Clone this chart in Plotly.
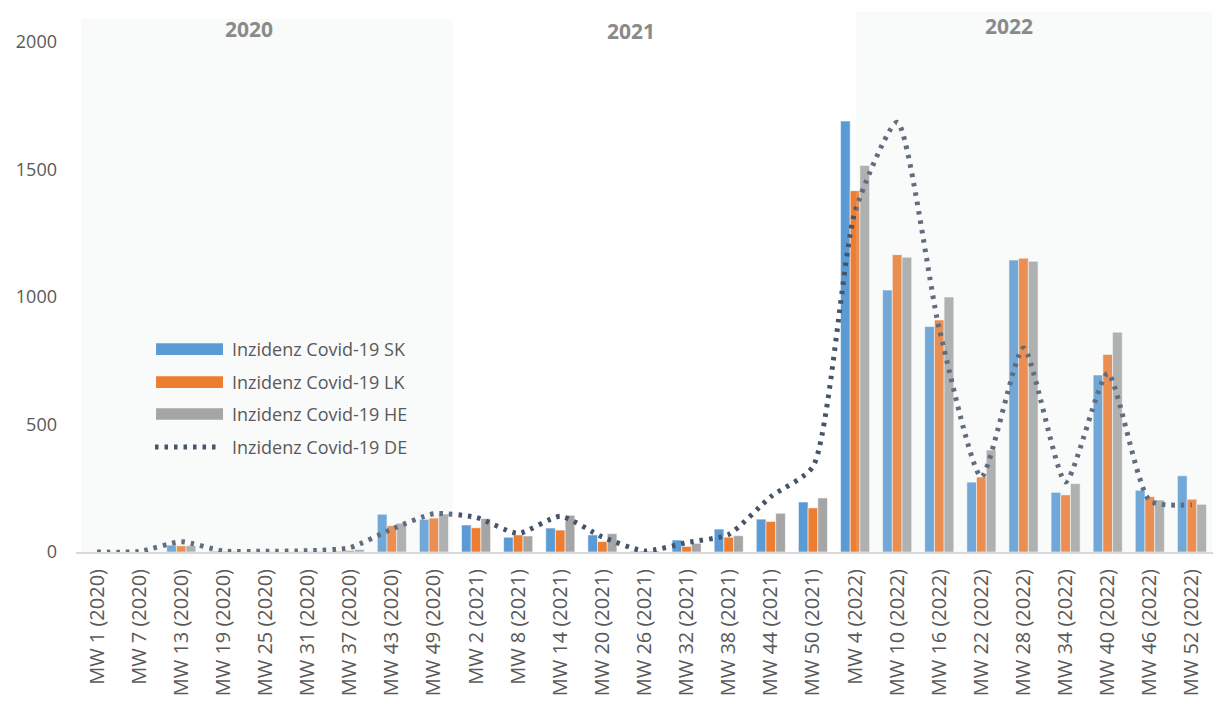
import plotly.graph_objects as go

# Reporting weeks (every 6th calendar week)
weeks = [
    "MW 1 (2020)", "MW 7 (2020)", "MW 13 (2020)", "MW 19 (2020)", "MW 25 (2020)",
    "MW 31 (2020)", "MW 37 (2020)", "MW 43 (2020)", "MW 49 (2020)",
    "MW 2 (2021)", "MW 8 (2021)", "MW 14 (2021)", "MW 20 (2021)", "MW 26 (2021)",
    "MW 32 (2021)", "MW 38 (2021)", "MW 44 (2021)", "MW 50 (2021)",
    "MW 4 (2022)", "MW 10 (2022)", "MW 16 (2022)", "MW 22 (2022)", "MW 28 (2022)",
    "MW 34 (2022)", "MW 40 (2022)", "MW 46 (2022)", "MW 52 (2022)",
]

# 7-day incidence per 100,000 inhabitants
inz_sk = [0, 0, 27, 3, 1, 2, 3, 148, 128, 106, 58, 94, 67, 3, 47, 90, 129, 196,
          1690, 1027, 884, 274, 1145, 234, 694, 242, 299]
inz_lk = [0, 0, 24, 3, 1, 2, 6, 103, 133, 95, 67, 86, 41, 4, 22, 58, 120, 173,
          1417, 1166, 910, 294, 1152, 224, 775, 217, 207]
inz_he = [0, 0, 25, 3, 1, 2, 10, 113, 149, 131, 63, 144, 72, 4, 34, 64, 152, 212,
          1516, 1156, 1000, 400, 1140, 268, 862, 204, 187]
inz_de = [0, 2, 40, 4, 3, 5, 17, 90, 150, 136, 73, 140, 59, 4, 37, 69, 217, 335,
          1335, 1685, 875, 295, 800, 275, 700, 201, 185]

y_ticks = [0, 500, 1000, 1500, 2000]
years = ["2020", "2021", "2022"]

FONT = "Open Sans"
C_SK, C_LK, C_HE, C_DE = "#5B9BD5", "#ED7D31", "#A5A5A5", "#44546A"
DE_DASH = "3.5px,6px"

fig = go.Figure()
bar_series = [
    ("Inzidenz Covid-19 SK", inz_sk, C_SK),
    ("Inzidenz Covid-19 LK", inz_lk, C_LK),
    ("Inzidenz Covid-19 HE", inz_he, C_HE),
]
for name, vals, col in bar_series:
    fig.add_trace(go.Bar(
        x=weeks, y=vals, name=name, marker_color=col,
        marker_line=dict(color="rgba(255,255,255,0.55)", width=1),
        showlegend=False,
    ))

fig.add_trace(go.Scatter(
    x=weeks, y=inz_de, name="Inzidenz Covid-19 DE", mode="lines",
    line=dict(color=C_DE, width=5, dash=DE_DASH, shape="spline", smoothing=0.6),
    showlegend=False,
))

# Light panels marking 2020 and 2022
shade = "rgba(222,228,228,0.18)"
fig.add_shape(type="rect", xref="x", yref="paper", x0=-0.38, x1=8.45, y0=0, y1=1.045,
              fillcolor=shade, line_width=0, layer="above")
fig.add_shape(type="rect", xref="x", yref="paper", x0=18.02, x1=26.48, y0=0, y1=1.059,
              fillcolor=shade, line_width=0, layer="above")

# Year headings
for label, xc, yc in zip(years, [3.61, 12.68, 21.66], [1.0255, 1.0216, 1.0304]):
    fig.add_annotation(text=label, x=xc, y=yc, xref="x", yref="paper",
                       showarrow=False, xanchor="center", yanchor="middle",
                       font=dict(family=FONT, size=21, color="#8A8A8A", weight="bold"))

# Legend block
leg_x0, leg_x1, leg_tx = 0.0704, 0.1293, 0.1355
leg_rows = [0.398, 0.3333, 0.2706]
for (name, _, col), yc in zip(bar_series, leg_rows):
    fig.add_shape(type="rect", xref="paper", yref="paper", x0=leg_x0, x1=leg_x1,
                  y0=yc - 0.0115, y1=yc + 0.0115, fillcolor=col, line_width=0,
                  layer="above")
    fig.add_annotation(text=name, x=leg_tx, y=yc, xref="paper", yref="paper",
                       showarrow=False, xanchor="left", yanchor="middle",
                       font=dict(family=FONT, size=18, color="#595959"))
de_row = 0.2059
fig.add_shape(type="line", xref="paper", yref="paper", x0=0.0695, x1=0.126,
              y0=de_row, y1=de_row, line=dict(color=C_DE, width=5, dash=DE_DASH),
              layer="above")
fig.add_annotation(text="Inzidenz Covid-19 DE", x=leg_tx, y=de_row, xref="paper",
                   yref="paper", showarrow=False, xanchor="left", yanchor="middle",
                   font=dict(family=FONT, size=18, color="#595959"))

fig.update_layout(
    width=1225, height=707,
    margin=dict(l=76, r=12, t=42, b=155, pad=0),
    paper_bgcolor="white", plot_bgcolor="white",
    barmode="group", bargap=0.31, bargroupgap=0,
    font=dict(family=FONT, color="#595959"),
)
fig.update_xaxes(
    type="category", range=[-0.5, 26.5], tickangle=-90,
    showline=True, linecolor="#D9D9D9", linewidth=2, showgrid=False,
    ticks="", tickfont=dict(family=FONT, size=20, color="#595959"),
    ticklabelstandoff=7,
)
fig.update_yaxes(
    range=[0, 2000], tickvals=y_ticks, showgrid=False, zeroline=False,
    showline=False, ticks="", tickfont=dict(family=FONT, size=18, color="#595959"),
    ticklabelstandoff=18,
)

fig.write_html("out.html")
